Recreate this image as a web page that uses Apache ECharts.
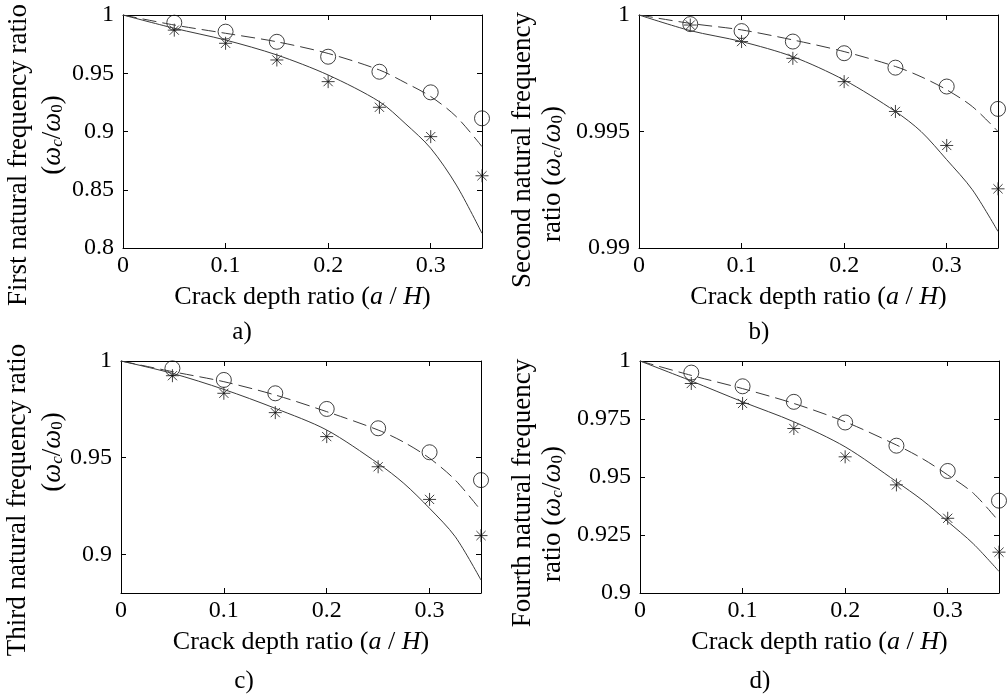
<!DOCTYPE html>
<html>
<head>
<meta charset="utf-8">
<title>Crack depth vs natural frequency ratio</title>
<script src="https://cdn.jsdelivr.net/npm/echarts@6/dist/echarts.min.js"></script>
<style>
  html, body { margin: 0; padding: 0; background: #fff; }
  #chart { width: 1008px; height: 695px; }
</style>
</head>
<body>
<div id="chart"></div>
<script>
// crack depth ratio a/H
const lineX = [0, 0.05, 0.1, 0.15, 0.2, 0.25, 0.275, 0.3, 0.325, 0.35]
const markX = [0.05, 0.1, 0.15, 0.2, 0.25, 0.3, 0.35]
const xTicks = [0, 0.1, 0.2, 0.3]

// a) first natural frequency
const solidA = [1, 0.9886, 0.9785, 0.9657, 0.9485, 0.9256, 0.907, 0.8856, 0.854, 0.8126]
const dashA = [1, 0.9914, 0.9843, 0.977, 0.967, 0.9528, 0.942, 0.930, 0.9127, 0.887]
const circA = [0.9934, 0.9857, 0.977, 0.9642, 0.9513, 0.9336, 0.9113]
const starA = [0.987, 0.9757, 0.9614, 0.9428, 0.9208, 0.8956, 0.862]
const yTicksA = [0.8, 0.85, 0.9, 0.95, 1]

// b) second natural frequency
const solidB = [1, 0.99933, 0.99886, 0.99821, 0.99721, 0.99586, 0.9950, 0.99379, 0.9925, 0.99071]
const dashB = [1, 0.99964, 0.99936, 0.99893, 0.99843, 0.99779, 0.99735, 0.99679, 0.99607, 0.995]
const circB = [0.99961, 0.99931, 0.99886, 0.99836, 0.99774, 0.99693, 0.99597]
const starB = [0.99957, 0.99886, 0.99814, 0.99714, 0.99586, 0.9944, 0.99254]
const yTicksB = [0.99, 0.995, 1]

// c) third natural frequency
const solidC = [1, 0.9936, 0.9853, 0.9755, 0.9643, 0.947, 0.9367, 0.9238, 0.9091, 0.8867]
const dashC = [1, 0.9945, 0.9893, 0.9824, 0.9738, 0.9643, 0.958, 0.9497, 0.9384, 0.9226]
const circC = [0.9962, 0.9902, 0.9833, 0.9752, 0.9652, 0.9528, 0.9384]
const starC = [0.9924, 0.9833, 0.9733, 0.9609, 0.9453, 0.9284, 0.9097]
const yTicksC = [0.9, 0.95, 1]

// d) fourth natural frequency
const solidD = [1, 0.9914, 0.9824, 0.9738, 0.963, 0.948, 0.9401, 0.9308, 0.9212, 0.9093]
const dashD = [1, 0.9938, 0.9881, 0.9817, 0.9738, 0.9638, 0.958, 0.9509, 0.943, 0.9308]
const circD = [0.995, 0.9891, 0.9824, 0.9735, 0.9635, 0.9526, 0.9398]
const starD = [0.9903, 0.9817, 0.9709, 0.9587, 0.9466, 0.9322, 0.9176]
const yTicksD = [0.9, 0.925, 0.95, 0.975, 1]

const FONT = "'Liberation Serif', 'Times New Roman', serif"
const STAR = 'path://M0,-10L0,10M-10,0L10,0M-7.07,-7.07L7.07,7.07M-7.07,7.07L7.07,-7.07'

const panels = [
  { grid: { left: 123, top: 15, width: 359, height: 233 }, yMin: 0.8, yTicks: yTicksA,
    solid: solidA, dash: dashA, circ: circA, star: starA },
  { grid: { left: 639, top: 15, width: 359, height: 233 }, yMin: 0.99, yTicks: yTicksB,
    solid: solidB, dash: dashB, circ: circB, star: starB },
  { grid: { left: 121, top: 361, width: 360, height: 232 }, yMin: 0.88, yTicks: yTicksC,
    solid: solidC, dash: dashC, circ: circC, star: starC },
  { grid: { left: 640, top: 361, width: 359, height: 232 }, yMin: 0.9, yTicks: yTicksD,
    solid: solidD, dash: dashD, circ: circD, star: starD }
]

const fmt = v => String(+v.toFixed(4))
const zip = (xs, ys) => xs.map((x, i) => [x, ys[i]])

const grids = [], xAxes = [], yAxes = [], series = []

panels.forEach((p, i) => {
  grids.push(Object.assign({ show: false }, p.grid))
  const tick = { inside: true, length: 5, lineStyle: { color: '#000', width: 1 } }
  const line = { show: true, onZero: false, lineStyle: { color: '#000', width: 1 } }
  xAxes.push({
    type: 'value', gridIndex: i, min: 0, max: 0.35, position: 'bottom',
    axisLine: line,
    axisTick: Object.assign({ customValues: xTicks }, tick),
    axisLabel: { customValues: xTicks, formatter: fmt, color: '#000', fontFamily: FONT, fontSize: 24, margin: 6 },
    splitLine: { show: false },
    name: 'Crack depth ratio ({i|a}{s| / }{i|H})',
    nameLocation: 'middle', nameGap: 36,
    nameTextStyle: {
      color: '#000', fontFamily: FONT, fontSize: 26,
      rich: {
        i: { fontFamily: FONT, fontSize: 26, fontStyle: 'italic', color: '#000' },
        s: { fontFamily: FONT, fontSize: 26, color: '#000' }
      }
    }
  })
  xAxes.push({
    type: 'value', gridIndex: i, min: 0, max: 0.35, position: 'top',
    axisLine: line,
    axisTick: Object.assign({ customValues: xTicks }, tick),
    axisLabel: { show: false }, splitLine: { show: false }
  })
  yAxes.push({
    type: 'value', gridIndex: i, min: p.yMin, max: 1, position: 'left',
    axisLine: line,
    axisTick: Object.assign({ customValues: p.yTicks }, tick),
    axisLabel: { customValues: p.yTicks, formatter: fmt, color: '#000', fontFamily: FONT, fontSize: 24, margin: 9 },
    splitLine: { show: false }
  })
  yAxes.push({
    type: 'value', gridIndex: i, min: p.yMin, max: 1, position: 'right',
    axisLine: line,
    axisTick: Object.assign({ customValues: p.yTicks }, tick),
    axisLabel: { show: false }, splitLine: { show: false }
  })

  const xi = i * 2, yi = i * 2
  series.push({
    type: 'line', xAxisIndex: xi, yAxisIndex: yi, data: zip(lineX, p.solid),
    showSymbol: false, smooth: 0.3, silent: true,
    lineStyle: { color: '#3a3a3a', width: 1 }
  })
  series.push({
    type: 'line', xAxisIndex: xi, yAxisIndex: yi, data: zip(lineX, p.dash),
    showSymbol: false, smooth: 0.3, silent: true,
    lineStyle: { color: '#3a3a3a', width: 1, type: [14, 6] }
  })
  series.push({
    type: 'scatter', xAxisIndex: xi, yAxisIndex: yi, data: zip(markX, p.circ),
    symbol: 'circle', symbolSize: 15, silent: true,
    itemStyle: { color: 'rgba(0,0,0,0)', borderColor: '#111', borderWidth: 1 }
  })
  series.push({
    type: 'scatter', xAxisIndex: xi, yAxisIndex: yi, data: zip(markX, p.star),
    symbol: STAR, symbolSize: 13, silent: true,
    itemStyle: { color: 'rgba(0,0,0,0)', borderColor: '#111', borderWidth: 1 }
  })
})

const omegaRich = {
  w: { fontFamily: FONT, fontSize: 27, fontStyle: 'italic', fill: '#000' },
  p: { fontFamily: FONT, fontSize: 27, fill: '#000' },
  sub: { fontFamily: FONT, fontSize: 17, fontStyle: 'italic', fill: '#000', verticalAlign: 'bottom', lineHeight: 20 },
  sub0: { fontFamily: FONT, fontSize: 17, fill: '#000', verticalAlign: 'bottom', lineHeight: 20 }
}
const ratioText = '{p|(}{w|ω}{sub|c}{p|/}{w|ω}{sub0|0}{p|)}'

function vText(x, y, text) {
  return {
    type: 'text', x: x, y: y, rotation: Math.PI / 2,
    style: {
      text: text, rich: omegaRich, fill: '#000',
      font: '27px ' + FONT, align: 'center', verticalAlign: 'middle'
    }
  }
}
function caption(x, y, text) {
  return {
    type: 'text', x: x, y: y,
    style: { text: text, fill: '#000', font: '25px ' + FONT, align: 'center', verticalAlign: 'middle' }
  }
}

const graphic = [
  vText(19, 155, '{p|First natural frequency ratio}'),
  vText(53, 135, ratioText),
  vText(523, 150, '{p|Second natural frequency}'),
  vText(553, 174, '{p|ratio }' + ratioText),
  vText(18, 500, '{p|Third natural frequency ratio}'),
  vText(53, 452, ratioText),
  vText(523, 493, '{p|Fourth natural frequency}'),
  vText(553, 514, '{p|ratio }' + ratioText),
  caption(242, 332, 'a)'),
  caption(759, 332, 'b)'),
  caption(244, 681, 'c)'),
  caption(760, 681, 'd)')
]

const chart = echarts.init(document.getElementById('chart'), null, { renderer: 'canvas' })
chart.setOption({
  animation: false,
  backgroundColor: '#fff',
  grid: grids,
  xAxis: xAxes,
  yAxis: yAxes,
  series: series,
  graphic: graphic
})
</script>
</body>
</html>
